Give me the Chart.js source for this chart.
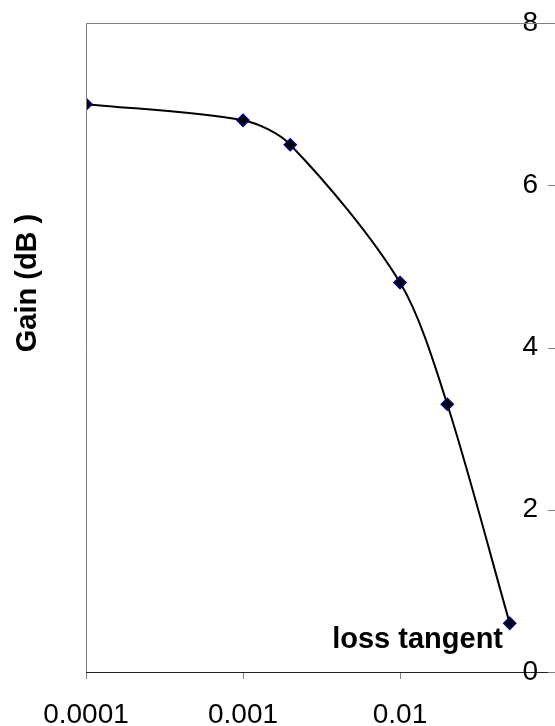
<!DOCTYPE html>
<html>
<head>
<meta charset="utf-8">
<script src="https://cdn.jsdelivr.net/npm/chart.js@4/dist/chart.umd.min.js"></script>
<style>
  html, body { margin: 0; padding: 0; background: #fff; overflow: hidden; }
  #wrap { width: 555px; height: 726px; overflow: hidden; }
</style>
</head>
<body>
<div id="wrap"><canvas id="gainChart" width="570" height="726"></canvas></div>
<script>
// data
const lossTangent = [0.0001, 0.001, 0.002, 0.01, 0.02, 0.05];
const gainDb = [7.0, 6.8, 6.5, 4.8, 3.3, 0.6];
const xTickValues = [0.0001, 0.001, 0.01];
const yTickValues = [0, 2, 4, 6, 8];

const xTitle = 'loss tangent';
const yTitle = 'Gain (dB )';

const FONT = '"Liberation Sans", Arial, sans-serif';

// frame lines, inner y tick marks and the axis titles (Excel style)
const excelFrame = {
    id: 'excelFrame',
    afterDraw(chart) {
        const { ctx, chartArea: a, scales } = chart;
        ctx.save();
        ctx.strokeStyle = '#808080';
        ctx.lineWidth = 1;
        ctx.beginPath();
        ctx.moveTo(Math.round(a.left) + 0.5, a.bottom);
        ctx.lineTo(Math.round(a.left) + 0.5, Math.round(a.top) + 0.5);
        ctx.lineTo(a.right, Math.round(a.top) + 0.5);
        yTickValues.forEach(v => {
            const y = Math.round(scales.y.getPixelForValue(v)) + 0.5;
            ctx.moveTo(a.right - 9, y);
            ctx.lineTo(a.right, y);
        });
        ctx.stroke();

        ctx.fillStyle = '#000';
        ctx.font = 'bold 29px ' + FONT;
        ctx.textAlign = 'right';
        ctx.textBaseline = 'alphabetic';
        ctx.fillText(xTitle, 503, 648);

        ctx.translate(36, 283);
        ctx.rotate(-Math.PI / 2);
        ctx.textAlign = 'center';
        ctx.fillText(yTitle, 0, 0);
        ctx.restore();
    }
};

new Chart(document.getElementById('gainChart'), {
    type: 'scatter',
    data: {
        datasets: [{
            data: lossTangent.map((x, i) => ({ x: x, y: gainDb[i] })),
            showLine: true,
            tension: 0.3,
            borderColor: '#000',
            borderWidth: 2,
            pointStyle: 'rectRot',
            pointRadius: 6,
            pointBackgroundColor: '#000',
            pointBorderColor: '#000080',
            pointBorderWidth: 1.5
        }]
    },
    options: {
        responsive: false,
        animation: false,
        layout: { padding: { left: 86, top: 23, right: 0, bottom: 0 } },
        plugins: { legend: { display: false }, tooltip: { enabled: false } },
        scales: {
            x: {
                type: 'logarithmic',
                min: 0.0001,
                max: 0.1,
                afterBuildTicks: s => { s.ticks = xTickValues.map(v => ({ value: v })); },
                afterFit: s => { s.height = 54; },
                border: { display: true, color: '#222', width: 1 },
                grid: { drawOnChartArea: false, drawTicks: true, tickLength: 7, color: '#808080' },
                ticks: {
                    color: '#000',
                    font: { family: FONT, size: 28 },
                    padding: 19,
                    maxRotation: 0,
                    autoSkip: false,
                    callback: v => String(v)
                }
            },
            y: {
                position: 'right',
                min: 0,
                max: 8,
                afterFit: s => { s.width = 13; s.paddingTop = 0; s.paddingBottom = 0; },
                border: { display: false },
                grid: { display: false },
                ticks: {
                    stepSize: 2,
                    mirror: true,
                    padding: -19,
                    color: '#000',
                    font: { family: FONT, size: 28 }
                }
            }
        }
    },
    plugins: [excelFrame]
});
</script>
</body>
</html>
